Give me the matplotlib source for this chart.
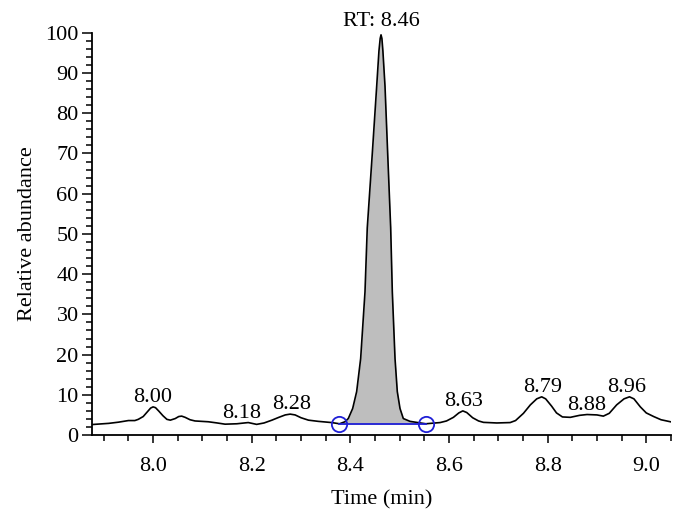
import numpy as np
import matplotlib
matplotlib.use("Agg")
import matplotlib.pyplot as plt
from matplotlib.ticker import MultipleLocator, FormatStrFormatter

plt.rcParams['font.family'] = ['Liberation Serif', 'DejaVu Serif']
FS = 16

# chromatogram trace
time = [7.876, 7.882, 7.91, 7.93, 7.95, 7.963, 7.97, 7.98, 7.99, 7.995,
        8.0, 8.005, 8.012, 8.02, 8.028, 8.035, 8.045, 8.052, 8.058, 8.065,
        8.075, 8.085, 8.112, 8.13, 8.146, 8.17, 8.185, 8.193, 8.21, 8.225,
        8.241, 8.255, 8.268, 8.278, 8.288, 8.3, 8.315, 8.335, 8.362, 8.378,
        8.389, 8.3958, 8.4047, 8.4128, 8.4209, 8.4297, 8.4343, 8.4445, 8.4534, 8.458,
        8.4605, 8.4622, 8.464, 8.466, 8.4703, 8.4757, 8.4818, 8.4851, 8.4906, 8.4952,
        8.5007, 8.5074, 8.521, 8.542, 8.553, 8.582, 8.595, 8.609, 8.62, 8.628,
        8.636, 8.648, 8.66, 8.670, 8.697, 8.724, 8.735, 8.751, 8.765, 8.778,
        8.788, 8.796, 8.808, 8.818, 8.83, 8.846, 8.865, 8.88, 8.9, 8.913,
        8.925, 8.94, 8.955, 8.966, 8.975, 8.988, 9.0, 9.015, 9.03, 9.049]
abundance = [2.6, 2.66, 2.9, 3.2, 3.6, 3.6, 3.9, 4.6, 6.0, 6.7,
             7.0, 6.8, 5.9, 4.8, 3.9, 3.7, 4.1, 4.6, 4.7, 4.4,
             3.8, 3.5, 3.3, 3.0, 2.7, 2.8, 3.0, 3.1, 2.65, 3.0,
             3.7, 4.4, 5.0, 5.2, 5.0, 4.3, 3.7, 3.4, 3.1, 2.8,
             3.3, 4.1, 6.6, 10.8, 19.0, 35.6, 51.5, 70.0, 86.7, 95.5,
             98.6, 99.5, 98.6, 95.5, 86.7, 70.0, 51.5, 35.6, 19.0, 10.8,
             6.6, 4.1, 3.4, 3.0, 2.8, 3.1, 3.5, 4.4, 5.5, 6.0,
             5.6, 4.3, 3.5, 3.15, 3.0, 3.1, 3.6, 5.4, 7.5, 9.0,
             9.5, 9.0, 7.2, 5.5, 4.5, 4.4, 4.9, 5.1, 5.0, 4.7,
             5.4, 7.5, 9.0, 9.5, 9.0, 7.0, 5.5, 4.6, 3.8, 3.3]

# integration baseline of the main peak
base_t = [8.378, 8.553]
base_y = [2.7, 2.7]

# peak labels
label_t = [8.00, 8.18, 8.28, 8.63, 8.79, 8.88, 8.96]
label_y = [7.0, 3.1, 5.2, 6.0, 9.5, 5.1, 9.5]
label_txt = ["8.00", "8.18", "8.28", "8.63", "8.79", "8.88", "8.96"]
rt_t, rt_y, rt_txt = 8.462, 99.5, "RT: 8.46"

t = np.array(time)
a = np.array(abundance)

fig = plt.figure(figsize=(6.86, 5.21), dpi=100)
ax = fig.add_axes([0.134, 0.165, 0.844, 0.772])

mask = (t >= base_t[0]) & (t <= base_t[1])
ax.fill_between(t[mask], base_y[0], a[mask], color="#bebebe", lw=0)
ax.plot(t, a, color="black", lw=1.2)
ax.plot(base_t, base_y, color="#1f1fd6", lw=1.3)
ax.plot(base_t, base_y, "o", mfc="none", mec="#1f1fd6", ms=11, mew=1.3)

for lt, ly, s in zip(label_t, label_y, label_txt):
    ax.annotate(s, (lt, ly), xytext=(0, 0), textcoords="offset points",
                ha="center", va="bottom", fontsize=FS)
ax.annotate(rt_txt, (rt_t, rt_y), xytext=(0, 3), textcoords="offset points",
            ha="center", va="bottom", fontsize=FS)

ax.set_xlim(7.876, 9.05)
ax.set_ylim(0, 100)
ax.xaxis.set_major_locator(MultipleLocator(0.2))
ax.xaxis.set_minor_locator(MultipleLocator(0.05))
ax.yaxis.set_major_locator(MultipleLocator(10))
ax.yaxis.set_minor_locator(MultipleLocator(2))
ax.xaxis.set_major_formatter(FormatStrFormatter("%.1f"))

for s in ["top", "right"]:
    ax.spines[s].set_visible(False)
for s in ["left", "bottom"]:
    ax.spines[s].set_linewidth(1.3)

ax.tick_params(axis="x", which="major", length=6, width=1.1, labelsize=FS, pad=10)
ax.tick_params(axis="x", which="minor", length=4.5, width=1.1)
ax.tick_params(axis="y", which="major", length=7.5, width=1.1, labelsize=FS, pad=2)
ax.tick_params(axis="y", which="minor", length=4.5, width=1.1)

ax.set_xlabel("Time (min)", fontsize=FS, labelpad=10)
ax.set_ylabel("Relative abundance", fontsize=FS, labelpad=6)

fig.savefig("out.png", dpi=100)
